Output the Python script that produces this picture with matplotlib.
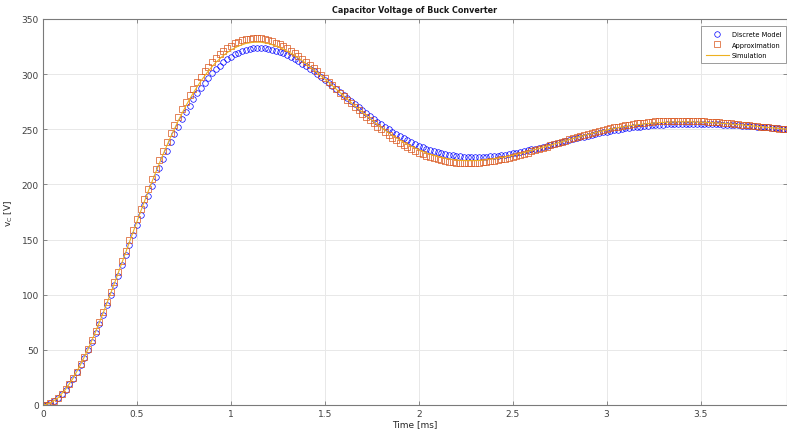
import numpy as np
import matplotlib
matplotlib.use("Agg")
import matplotlib.pyplot as plt

# tensão no capacitor (V), amostras a cada 0.02 ms
dt_markers = 0.02
v_discreto = [
    0.0, 0.4, 1.6, 3.6, 6.4, 9.8, 13.9, 18.6, 23.9, 29.7,
    36.0, 42.8, 49.9, 57.5, 65.4, 73.5, 82.0, 90.6, 99.4, 108.4,
    117.4, 126.5, 135.7, 144.9, 154.0, 163.1, 172.1, 181.0, 189.8, 198.4,
    206.8, 215.0, 223.0, 230.7, 238.2, 245.5, 252.4, 259.1, 265.4, 271.4,
    277.1, 282.5, 287.6, 292.3, 296.6, 300.7, 304.4, 307.7, 310.7, 313.4,
    315.8, 317.8, 319.5, 321.0, 322.1, 322.9, 323.4, 323.7, 323.7, 323.4,
    323.0, 322.2, 321.3, 320.1, 318.8, 317.3, 315.6, 313.7, 311.7, 309.6,
    307.3, 305.0, 302.5, 300.0, 297.4, 294.7, 292.0, 289.3, 286.5, 283.7,
    280.9, 278.1, 275.3, 272.5, 269.8, 267.1, 264.5, 261.9, 259.3, 256.8,
    254.4, 252.1, 249.9, 247.7, 245.6, 243.6, 241.8, 240.0, 238.3, 236.7,
    235.2, 233.8, 232.5, 231.3, 230.3, 229.3, 228.4, 227.6, 227.0, 226.4,
    225.9, 225.5, 225.2, 225.0, 224.9, 224.9, 224.9, 225.0, 225.2, 225.5,
    225.8, 226.2, 226.6, 227.1, 227.6, 228.2, 228.9, 229.5, 230.2, 231.0,
    231.7, 232.5, 233.3, 234.1, 235.0, 235.8, 236.7, 237.5, 238.4, 239.2,
    240.1, 240.9, 241.8, 242.6, 243.4, 244.2, 244.9, 245.7, 246.4, 247.1,
    247.8, 248.4, 249.0, 249.6, 250.2, 250.7, 251.2, 251.7, 252.1, 252.5,
    252.9, 253.3, 253.6, 253.9, 254.1, 254.3, 254.5, 254.7, 254.8, 254.9,
    255.0, 255.0, 255.1, 255.1, 255.0, 255.0, 254.9, 254.8, 254.7, 254.6,
    254.5, 254.3, 254.1, 253.9, 253.7, 253.5, 253.3, 253.1, 252.8, 252.6,
    252.4, 252.1, 251.8, 251.6, 251.3, 251.1, 250.8, 250.5, 250.3,
]
v_aproximacao = [
    0.0, 0.4, 1.7, 3.7, 6.5, 10.0, 14.2, 19.0, 24.4, 30.3,
    36.8, 43.8, 51.1, 58.9, 67.0, 75.5, 84.2, 93.1, 102.2, 111.5,
    120.9, 130.4, 139.9, 149.4, 158.9, 168.4, 177.8, 187.0, 196.1, 205.1,
    213.8, 222.4, 230.7, 238.8, 246.6, 254.1, 261.3, 268.2, 274.8, 281.0,
    286.9, 292.4, 297.6, 302.4, 306.9, 310.9, 314.7, 318.0, 321.0, 323.7,
    325.9, 327.9, 329.4, 330.7, 331.6, 332.2, 332.5, 332.5, 332.3, 331.7,
    330.9, 329.8, 328.5, 327.0, 325.2, 323.3, 321.2, 318.9, 316.4, 313.8,
    311.1, 308.3, 305.4, 302.4, 299.3, 296.1, 293.0, 289.7, 286.5, 283.3,
    280.0, 276.8, 273.6, 270.4, 267.3, 264.2, 261.1, 258.2, 255.3, 252.5,
    249.8, 247.2, 244.7, 242.3, 240.0, 237.8, 235.7, 233.8, 232.0, 230.3,
    228.7, 227.2, 225.9, 224.7, 223.6, 222.6, 221.8, 221.1, 220.5, 220.0,
    219.6, 219.4, 219.2, 219.2, 219.2, 219.4, 219.6, 219.9, 220.3, 220.8,
    221.4, 222.0, 222.7, 223.4, 224.2, 225.1, 226.0, 226.9, 227.9, 228.9,
    230.0, 231.0, 232.1, 233.2, 234.3, 235.4, 236.5, 237.6, 238.7, 239.8,
    240.9, 242.0, 243.0, 244.0, 245.0, 246.0, 246.9, 247.8, 248.7, 249.5,
    250.3, 251.1, 251.8, 252.5, 253.2, 253.8, 254.3, 254.8, 255.3, 255.7,
    256.1, 256.5, 256.8, 257.1, 257.3, 257.5, 257.6, 257.7, 257.8, 257.8,
    257.8, 257.8, 257.7, 257.6, 257.5, 257.4, 257.2, 257.0, 256.8, 256.5,
    256.2, 256.0, 255.7, 255.3, 255.0, 254.7, 254.3, 254.0, 253.6, 253.2,
    252.9, 252.5, 252.1, 251.7, 251.3, 251.0, 250.6, 250.2, 249.9,
]
# simulação: amostras a cada 0.04 ms
dt_sim = 0.04
v_simulacao = [
    0.0, 1.7, 6.5, 14.1, 24.2, 36.5, 50.6, 66.4, 83.3, 101.1,
    119.5, 138.2, 156.9, 175.5, 193.6, 211.0, 227.6, 243.2, 257.7, 271.0,
    283.0, 293.6, 302.8, 310.6, 316.9, 321.9, 325.4, 327.8, 328.9, 328.9,
    327.7, 325.6, 322.6, 319.0, 314.5, 309.6, 304.2, 298.5, 292.6, 286.5,
    280.4, 274.3, 268.3, 262.5, 256.9, 251.6, 246.8, 242.2, 238.1, 234.5,
    231.3, 228.5, 226.3, 224.4, 223.1, 222.1, 221.6, 221.5, 221.7, 222.3,
    223.2, 224.3, 225.6, 227.2, 228.8, 230.7, 232.6, 234.6, 236.6, 238.6,
    240.6, 242.5, 244.4, 246.1, 247.8, 249.3, 250.7, 252.0, 253.1, 254.0,
    254.8, 255.5, 256.0, 256.4, 256.6, 256.7, 256.7, 256.5, 256.3, 256.0,
    255.5, 255.1, 254.5, 253.9, 253.3, 252.7, 252.0, 251.3, 250.7, 250.1,
]

t_markers = np.arange(len(v_discreto)) * dt_markers
t_sim = np.arange(len(v_simulacao)) * dt_sim

azul = "#0000ff"
laranja = "#d95319"
amarelo = "#edb120"
cinza = "#7a7a7a"

fig = plt.figure(figsize=(7.87, 4.35), dpi=100, facecolor="white")
ax = fig.add_axes([0.0546, 0.0667, 0.9454, 0.8874])

ax.plot(t_markers, v_discreto, "o", ms=4.0, mfc="none", mec=azul, mew=0.5,
        label="Discrete Model")
ax.plot(t_markers, v_aproximacao, "s", ms=3.8, mfc="none", mec=laranja, mew=0.5,
        label="Approximation")
ax.plot(t_sim, v_simulacao, "-", color=amarelo, lw=0.8, label="Simulation")

ax.set_xlim(0, 3.96)
ax.set_ylim(0, 350)
ax.set_xticks([0, 0.5, 1, 1.5, 2, 2.5, 3, 3.5])
ax.set_xticklabels(["0", "0.5", "1", "1.5", "2", "2.5", "3", "3.5"])
ax.set_yticks(np.arange(0, 351, 50))

ax.grid(True, color="#e8e8e8", lw=0.7)
ax.set_axisbelow(True)
for lado in ax.spines.values():
    lado.set_color(cinza)
    lado.set_linewidth(0.8)
ax.tick_params(direction="in", length=3, width=0.6, colors=cinza,
               labelcolor="#404040", labelsize=6.5, top=True, right=True, pad=3)

ax.set_title("Capacitor Voltage of Buck Converter", fontsize=5.8, weight="bold",
             color="#1a1a1a", pad=5)
ax.set_xlabel("Time [ms]", fontsize=6.5, color="#262626", labelpad=1)
ax.set_ylabel(r"$\mathregular{v_C}$ [V]", fontsize=6.5, color="#262626", labelpad=5)

leg = ax.legend(loc="upper right", fontsize=4.8, frameon=True, fancybox=False,
                framealpha=1, edgecolor="#8c8c8c", borderpad=0.75,
                handlelength=3.5, handletextpad=0.4, labelspacing=0.7,
                borderaxespad=0, bbox_to_anchor=(0.999, 0.982))
leg.get_frame().set_linewidth(0.6)

plt.savefig("out.png", dpi=100, facecolor="white")
plt.close()
